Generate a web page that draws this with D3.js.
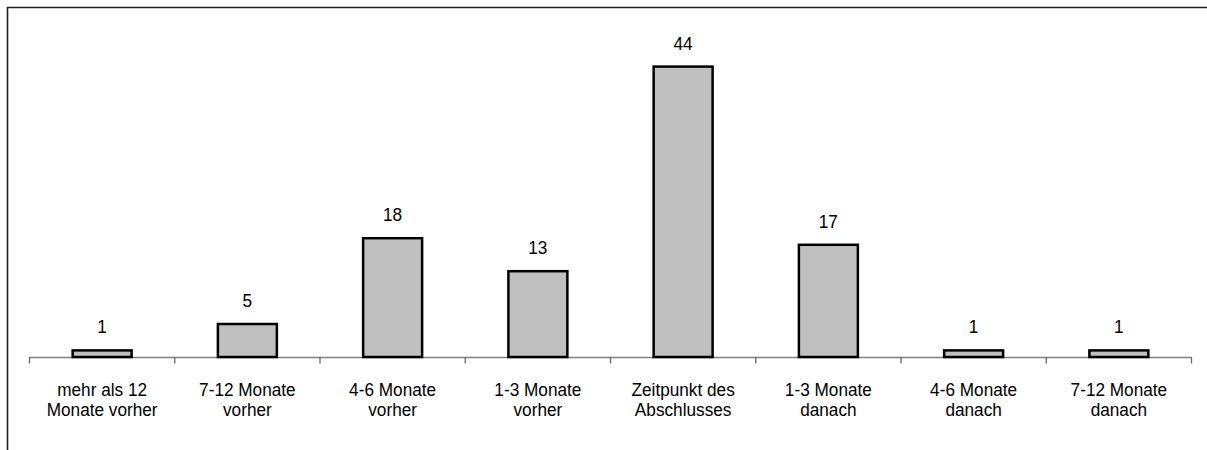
<!DOCTYPE html>
<html>
<head>
<meta charset="utf-8">
<script src="https://cdn.jsdelivr.net/npm/d3@7"></script>
<style>
  html, body { margin: 0; padding: 0; background: #fff; overflow: hidden; }
  text { font-family: "Liberation Sans", Arial, sans-serif; fill: #000; }
</style>
</head>
<body>
<svg id="chart" width="1207" height="450"></svg>
<script>
const categories = [
  ["mehr als 12", "Monate vorher"],
  ["7-12 Monate", "vorher"],
  ["4-6 Monate", "vorher"],
  ["1-3 Monate", "vorher"],
  ["Zeitpunkt des", "Abschlusses"],
  ["1-3 Monate", "danach"],
  ["4-6 Monate", "danach"],
  ["7-12 Monate", "danach"]
];
const values = [1, 5, 18, 13, 44, 17, 1, 1];
const yDomain = [0, 50];

const svg = d3.select("#chart");
const left = 29.5, right = 1191.5, baseY = 357, topY = 27;
const fs = 18.5, sx = 0.93;

// outer frame (extends beyond right/bottom of the view)
svg.append("path")
  .attr("d", "M1207,7.5H7.5V450")
  .attr("fill", "none").attr("stroke", "#222").attr("stroke-width", 1.6);

const keys = categories.map((d, i) => i);
const x = d3.scaleBand().domain(keys).range([left, right])
  .paddingInner(0.594).paddingOuter(0.297);
const xTick = d3.scaleBand().domain(keys).range([left, right]).padding(0);
const y = d3.scaleLinear().domain(yDomain).range([baseY, topY]);

// axis line
svg.append("line")
  .attr("x1", left).attr("x2", right)
  .attr("y1", baseY + 0.5).attr("y2", baseY + 0.5)
  .attr("stroke", "#808080").attr("stroke-width", 1.5);

// ticks at category boundaries
const bounds = keys.map(k => xTick(k)).concat([right]);
svg.selectAll("line.tick").data(bounds).enter().append("line")
  .attr("class", "tick")
  .attr("x1", d => d).attr("x2", d => d)
  .attr("y1", baseY).attr("y2", baseY + 6.5)
  .attr("stroke", "#666").attr("stroke-width", 1.3);

// bars
svg.selectAll("rect.bar").data(values).enter().append("rect")
  .attr("class", "bar")
  .attr("x", (d, i) => x(i))
  .attr("width", x.bandwidth())
  .attr("y", d => y(d))
  .attr("height", d => y(0) - y(d))
  .attr("fill", "#c0c0c0")
  .attr("stroke", "#000")
  .attr("stroke-width", 2.5);

// value labels
svg.selectAll("text.val").data(values).enter().append("text")
  .attr("class", "val")
  .attr("transform", (d, i) => `translate(${x(i) + x.bandwidth() / 2},${y(d) - 17}) scale(${sx},1)`)
  .attr("text-anchor", "middle")
  .attr("font-size", fs)
  .text(d => d);

// category labels (one text per line)
categories.forEach((lines, i) => {
  lines.forEach((line, j) => {
    svg.append("text")
      .attr("class", "cat")
      .attr("text-anchor", "middle")
      .attr("font-size", fs)
      .attr("transform", `translate(${x(i) + x.bandwidth() / 2},${396 + j * 19.5}) scale(${sx},1)`)
      .text(line);
  });
});
</script>
</body>
</html>
